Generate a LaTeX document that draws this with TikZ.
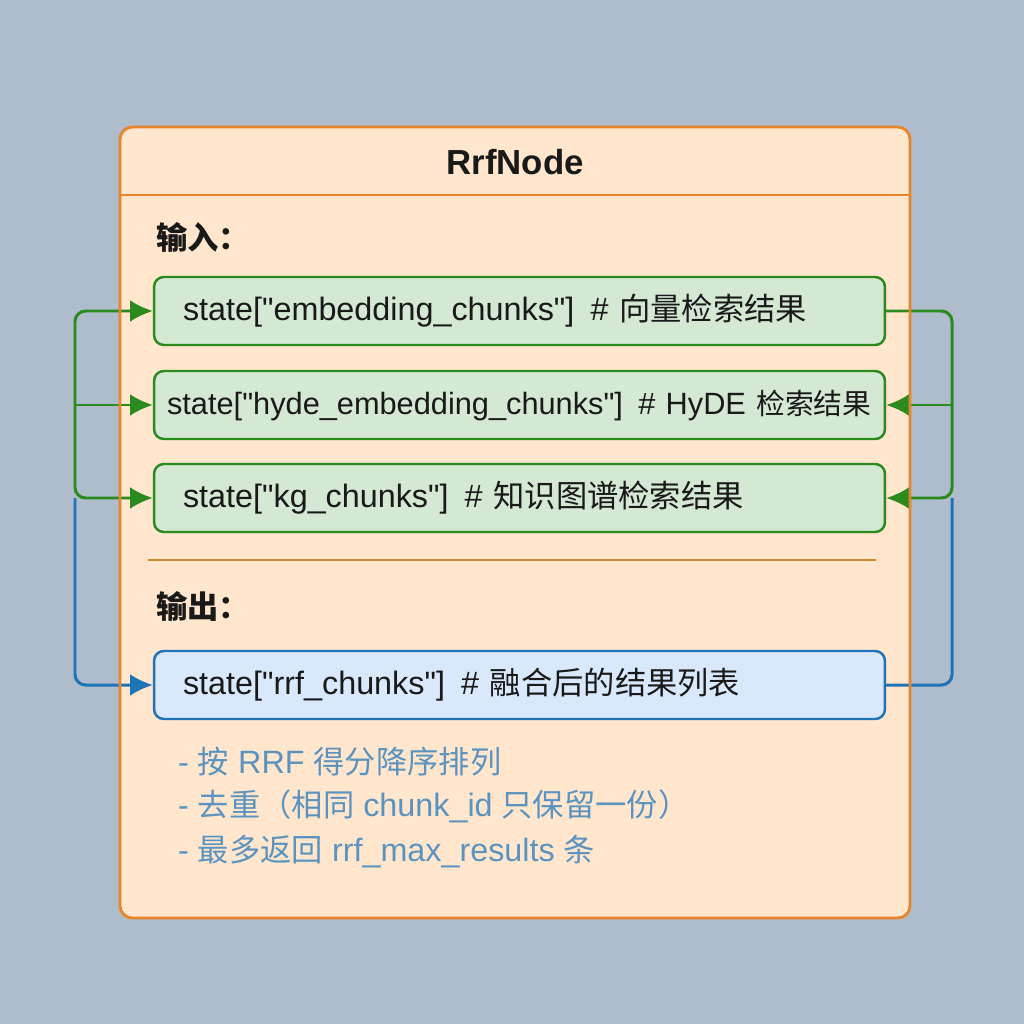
\documentclass[tikz,border=0pt]{standalone}
\usepackage{fontspec}
\newfontfamily\latf{Liberation Sans}
\newfontfamily\cjkf{Noto Sans CJK SC}
\newcommand{\zh}[2][17.8pt]{{\cjkf\fontsize{#1}{20pt}\selectfont #2}}
\usetikzlibrary{arrows.meta}

\definecolor{bgc}{HTML}{AEBCCB}
\definecolor{orangeline}{HTML}{E8842A}
\definecolor{orangefill}{HTML}{FFE6CC}
\definecolor{greenline}{HTML}{2A8A1E}
\definecolor{greenfill}{HTML}{D5E8D4}
\definecolor{blueline}{HTML}{1F73B7}
\definecolor{bluefill}{HTML}{DAE8FC}
\definecolor{notec}{HTML}{5B93C0}
\definecolor{rulec}{HTML}{C98A34}

\begin{document}
\begin{tikzpicture}[x=0.02cm,y=-0.02cm,
	txt/.style={font=\fontsize{18.4pt}{20pt}\selectfont\latf, text=black!90},
	chunkbox/.style={txt, draw=greenline, fill=greenfill, line width=1.4pt, rounded corners=5.5pt,
		minimum width=14.62cm, minimum height=1.36cm, inner ysep=0pt, text width=13.46cm, align=left},
	outbox/.style={chunkbox, draw=blueline, fill=bluefill},
	flowg/.style={draw=greenline, line width=1.7pt, rounded corners=6pt},
	flowb/.style={draw=blueline, line width=1.7pt, rounded corners=6pt},
	tip/.style={-{Latex[length=13pt,width=12.5pt]}}]

\fill[bgc] (0,0) rectangle (1024,1024);

% outer frame
\fill[orangefill, rounded corners=7pt] (120,127) rectangle (910,918);
\node[txt, font=\fontsize{19.8pt}{22pt}\selectfont\latf\bfseries] (title) at (515,162) {RrfNode};
\draw[orangeline, line width=1.6pt] (120,195) -- (910,195);

\node[txt, font=\fontsize{17.8pt}{20pt}\selectfont\cjkf\bfseries, anchor=west] (inlab) at (150,237) {输入：};
\node[txt, font=\fontsize{17.8pt}{20pt}\selectfont\cjkf\bfseries, anchor=west] (outlab) at (150,606) {输出：};
\draw[rulec, line width=1.4pt] (148,560) -- (876,560);

% chunk lists
\node[chunkbox] (in1) at (519.5,311) {state["embedding\_chunks"] \,\# \zh{向量检索结果}};
\node[chunkbox, font=\fontsize{17.5pt}{20pt}\selectfont\latf, inner xsep=0.26cm, text width=14.1cm] (in2) at (519.5,405)
	{\mbox{state["hyde\_embedding\_chunks"] \,\# HyDE \zh[16.4pt]{检索结果}}};
\node[chunkbox] (in3) at (519.5,498) {state["kg\_chunks"] \,\# \zh{知识图谱检索结果}};
\node[outbox] (out) at (519.5,685) {state["rrf\_chunks"] \,\# \zh{融合后的结果列表}};

\foreach \t/\y in {{- \zh{按} RRF \zh{得分降序排列}}/762, {- \zh{去重（相同} chunk\_id \zh{只保留一份）}}/806, {- \zh{最多返回} rrf\_max\_results \zh{条}}/852}
	\node[txt, text=notec, anchor=west] at (172,\y) {\t};

\coordinate (lx) at (75,0);
\coordinate (rx) at (952,0);

% left side
\draw[flowg, {Latex[length=13pt,width=12.5pt]}-{Latex[length=13pt,width=12.5pt]}] (in1.west) -| (lx |- in2.west) |- (in3.west);
\draw[flowg, tip] (lx |- in2.west) -- (in2.west);
\draw[flowb, tip] (lx |- in3.west) |- (out.west);

% right side
\draw[flowg, tip] (in1.east) -| (rx |- in2.east) |- (in3.east);
\draw[flowg, tip] (rx |- in2.east) -- (in2.east);
\draw[flowb] (out.east) -| (rx |- in3.east);

\draw[orangeline, line width=1.6pt, rounded corners=7pt] (120,127) rectangle (910,918);
\end{tikzpicture}
\end{document}
